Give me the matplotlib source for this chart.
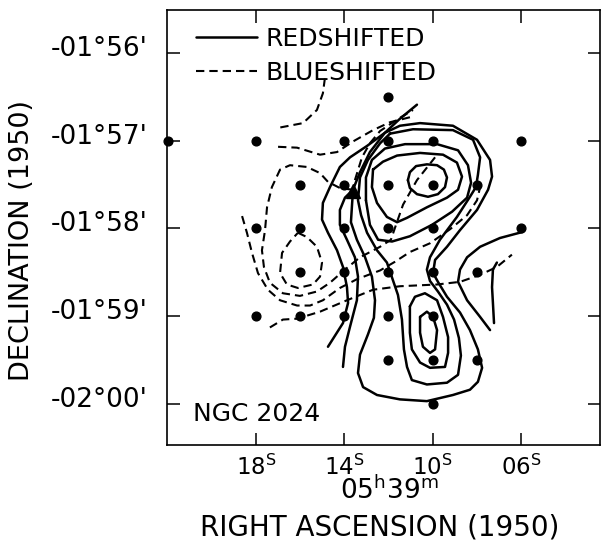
import matplotlib
matplotlib.use("Agg")
import matplotlib.pyplot as plt
import matplotlib.transforms as mtransforms

plt.rcParams['font.family'] = ['DejaVu Sans']
plt.rcParams['mathtext.fontset'] = 'dejavusans'

# positions: RA in seconds after 05h39m, Dec in arcmin after -01 deg (1950)
obs_ra = [22, 18, 14, 12, 10, 6,
          12,
          16, 14, 12, 10, 8,
          18, 16, 14, 12, 10, 6,
          16, 14, 12, 10, 8,
          18, 16, 14, 12, 10,
          12, 10, 8,
          10]
obs_dec = [-57, -57, -57, -57, -57, -57,
           -56.5,
           -57.5, -57.5, -57.5, -57.5, -57.5,
           -58, -58, -58, -58, -58, -58,
           -58.5, -58.5, -58.5, -58.5, -58.5,
           -59, -59, -59, -59, -59,
           -59.5, -59.5, -59.5,
           -60]
star_ra = [13.61]
star_dec = [-57.57]

# redshifted contours (solid)
red1_ra = [11.12, 11.03, 10.75, 10.26, 9.80, 9.49, 9.35, 9.44, 9.76, 10.21, 10.71, 11.03, 11.12]
red1_dec = [-57.45, -57.36, -57.29, -57.27, -57.28, -57.33, -57.42, -57.53, -57.61, -57.64, -57.61, -57.54, -57.45]

red2_ra = [12.70, 12.25, 11.61, 10.57, 9.53, 8.90, 8.67, 8.85, 9.35, 10.26, 11.16, 11.61, 12.07, 12.52, 12.75, 12.70]
red2_dec = [-57.33, -57.24, -57.17, -57.14, -57.16, -57.25, -57.41, -57.56, -57.65, -57.76, -57.88, -57.93, -57.87, -57.71, -57.53, -57.33]

red3_ra = [13.02, 13.02, 12.75, 12.16, 11.25, 9.80, 8.85, 8.40, 8.26, 8.44, 9.12, 10.03, 11.03, 11.84, 12.47, 12.84, 13.02]
red3_dec = [-57.68, -57.42, -57.22, -57.09, -57.04, -57.04, -57.11, -57.28, -57.48, -57.65, -57.81, -57.96, -58.09, -58.15, -58.13, -57.96, -57.68]

red4_ra = [11.93, 10.89, 9.08, 8.17, 7.85, 7.95, 8.04, 8.31, 8.90, 9.67, 10.12, 10.26, 10.12, 9.76, 9.35,
           9.03, 8.81, 8.72, 8.85, 9.35, 10.26, 10.94, 11.16, 11.30, 11.39, 11.57, 12.07, 12.52, 12.97,
           13.24, 13.38, 13.29, 12.93, 12.38, 11.93]
red4_dec = [-56.92, -56.87, -56.88, -56.99, -57.19, -57.39, -57.53, -57.64, -57.87, -58.13, -58.33, -58.47, -58.60,
            -58.72, -58.87, -59.04, -59.25, -59.45, -59.67, -59.76, -59.78, -59.73, -59.58, -59.38, -59.04,
            -58.76, -58.39, -58.25, -58.05, -57.85, -57.68, -57.42, -57.22, -57.03, -56.92]

red5_ra = [14.74, 14.06, 13.83, 13.88, 14.06, 14.33, 14.74, 15.01, 14.97, 14.65, 14.20, 13.74, 12.97, 12.16,
           11.48, 10.57, 9.08, 7.99, 7.40, 7.31, 7.49, 7.99, 8.76, 9.35, 9.89, 9.98, 9.76, 9.35, 8.76, 8.31,
           7.95, 7.76, 7.95, 8.31, 9.08, 10.26, 11.48, 12.52, 13.15, 13.38, 13.29, 12.93, 12.66, 12.61,
           12.75, 13.06, 13.43, 13.70, 13.65, 13.61]
red5_dec = [-59.35, -59.08, -58.85, -58.67, -58.44, -58.25, -58.05, -57.90, -57.71, -57.53, -57.30, -57.19,
            -57.06, -56.91, -56.83, -56.80, -56.83, -56.99, -57.22, -57.41, -57.56, -57.79, -58.02, -58.21,
            -58.36, -58.51, -58.61, -58.78, -58.96, -59.16, -59.38, -59.59, -59.75, -59.84, -59.90, -59.97,
            -59.95, -59.90, -59.81, -59.65, -59.44, -59.21, -59.02, -58.82, -58.55, -58.33, -58.13, -57.93,
            -57.73, -57.58]

red6_ra = [14.06, 13.97, 13.74, 13.43, 13.38, 13.52, 13.88, 14.20, 14.20, 13.97, 13.65]
red6_dec = [-59.58, -59.35, -59.12, -58.82, -58.55, -58.33, -58.13, -57.96, -57.79, -57.65, -57.57]

red7_ra = [13.61, 13.29, 12.84, 12.16, 11.48, 10.71]
red7_dec = [-57.56, -57.36, -57.13, -56.91, -56.75, -56.59]

red8_ra = [5.91, 6.95, 7.85, 8.44, 8.76, 8.85, 8.44, 7.85, 7.40]
red8_dec = [-58.04, -58.11, -58.21, -58.33, -58.47, -58.61, -58.82, -59.01, -59.16]

red9_ra = [7.09, 7.27, 7.31, 7.27, 7.22]
red9_dec = [-58.39, -58.47, -58.67, -58.85, -59.08]

red10_ra = [10.57, 10.26, 9.98, 9.80, 9.89, 10.12, 10.44, 10.57, 10.57]
red10_dec = [-59.01, -58.95, -59.01, -59.16, -59.38, -59.42, -59.35, -59.19, -59.01]

red11_ra = [11.03, 10.80, 10.35, 9.80, 9.53, 9.30, 9.30, 9.44, 10.12, 10.57, 10.94, 11.03, 11.03]
red11_dec = [-58.89, -58.78, -58.74, -58.82, -59.01, -59.24, -59.42, -59.58, -59.59, -59.53, -59.38, -59.19, -58.89]

# blueshifted contours (dashed)
blue1_ra = [14.88, 14.97, 15.24, 15.87, 16.91]
blue1_dec = [-56.29, -56.46, -56.65, -56.80, -56.85]

blue2_ra = [17.00, 16.14, 15.10, 14.33, 13.61, 12.70, 11.93, 10.98]
blue2_dec = [-57.07, -57.08, -57.16, -57.13, -57.01, -56.88, -56.79, -56.73]

blue3_ra = [13.52, 13.20, 12.84, 12.38, 11.61, 10.89]
blue3_dec = [-57.45, -57.19, -57.03, -56.89, -56.76, -56.65]

blue4_ra = [18.63, 18.41, 18.18, 17.91, 17.46, 16.91, 16.14, 15.55, 14.97, 14.20, 13.43, 12.38, 11.70,
            11.03, 10.12, 9.21, 8.44, 7.99, 7.85]
blue4_dec = [-57.86, -58.05, -58.28, -58.51, -58.70, -58.82, -58.88, -58.88, -58.82, -58.68, -58.58,
             -58.48, -58.38, -58.27, -58.17, -58.01, -57.85, -57.68, -57.53]

blue5_ra = [13.61, 14.20, 14.74, 15.10, 15.69, 16.46, 16.91, 17.28, 17.50, 17.59, 17.73, 17.64, 17.37,
            16.78, 16.01, 15.24, 14.65, 13.97, 13.29, 12.38, 11.89, 11.70, 11.34, 10.71, 9.89]
blue5_dec = [-57.56, -57.54, -57.47, -57.37, -57.30, -57.28, -57.33, -57.53, -57.76, -58.02, -58.25,
             -58.44, -58.62, -58.74, -58.77, -58.72, -58.62, -58.47, -58.33, -58.21, -58.13, -57.99,
             -57.73, -57.45, -57.19]

blue6_ra = [16.10, 15.69, 15.24, 15.01, 15.10, 15.42, 16.10, 16.60, 16.91, 16.82, 16.46, 16.10]
blue6_dec = [-58.05, -58.10, -58.21, -58.39, -58.55, -58.64, -58.68, -58.64, -58.51, -58.28, -58.15, -58.05]

blue7_ra = [17.37, 16.78, 16.14, 15.10, 13.88, 12.70, 11.48, 9.80, 8.76, 7.85, 7.09, 6.41]
blue7_dec = [-59.13, -59.04, -59.03, -58.95, -58.82, -58.70, -58.66, -58.64, -58.61, -58.53, -58.44, -58.30]

red_contours = [(red1_ra, red1_dec), (red2_ra, red2_dec), (red3_ra, red3_dec), (red4_ra, red4_dec),
                (red5_ra, red5_dec), (red6_ra, red6_dec), (red7_ra, red7_dec), (red8_ra, red8_dec),
                (red9_ra, red9_dec), (red10_ra, red10_dec), (red11_ra, red11_dec)]
blue_contours = [(blue1_ra, blue1_dec), (blue2_ra, blue2_dec), (blue3_ra, blue3_dec), (blue4_ra, blue4_dec),
                 (blue5_ra, blue5_dec), (blue6_ra, blue6_dec), (blue7_ra, blue7_dec)]

xtick_vals = [18, 14, 10, 6]
xtick_text = [r'18$^{\rm S}$', r'14$^{\rm S}$', r'10$^{\rm S}$', r'06$^{\rm S}$']
ytick_vals = [-56, -57, -58, -59, -60]
ytick_text = ["-01°56'", "-01°57'", "-01°58'", "-01°59'", "-02°00'"]

fig = plt.figure(figsize=(6.02, 5.42), dpi=100)
ax = fig.add_axes([0.2774, 0.1790, 0.7193, 0.8026])

red_lines = []
for ra, dec in red_contours:
    red_lines += ax.plot(ra, dec, color='black', lw=1.8, solid_joinstyle='round', solid_capstyle='round')
blue_lines = []
for ra, dec in blue_contours:
    blue_lines += ax.plot(ra, dec, color='black', lw=1.5, dashes=(4.0, 2.4), dash_joinstyle='round')

ax.plot(obs_ra, obs_dec, 'o', color='black', ms=6.3, clip_on=False)
ax.plot(star_ra, star_dec, '^', color='black', ms=10.5)

ax.set_xlim(22.03, 2.42)
ax.set_ylim(-60.47, -55.51)

ax.set_xticks(xtick_vals)
ax.set_xticklabels(xtick_text, fontsize=16.5)
ax.set_yticks(ytick_vals)
ax.set_yticklabels(ytick_text, fontsize=19)
ax.tick_params(direction='in', length=9, width=1.1, top=True, right=True)
ax.tick_params(axis='y', pad=14)
ax.tick_params(axis='x', pad=7)
shift = mtransforms.ScaledTranslation(0, 5 / 72, fig.dpi_scale_trans)
for lab in ax.get_yticklabels():
    lab.set_transform(lab.get_transform() + shift)
for sp in ax.spines.values():
    sp.set_linewidth(1.2)

ax.legend([red_lines[0], blue_lines[0]], ['REDSHIFTED', 'BLUESHIFTED'], loc='upper left',
          bbox_to_anchor=(0.066, 0.962), frameon=False, fontsize=18, handlelength=2.45,
          handletextpad=0.35, labelspacing=0.42, borderpad=0, borderaxespad=0)

ax.text(0.06, 0.071, 'NGC 2024', transform=ax.transAxes, fontsize=18, va='center', ha='left')
ax.text(0.513, -0.105, r'05$^{\rm h}$39$^{\rm m}$', transform=ax.transAxes, fontsize=19,
        va='center', ha='center')
ax.text(0.492, -0.189, 'RIGHT ASCENSION (1950)', transform=ax.transAxes, fontsize=20,
        va='center', ha='center')
ax.text(-0.335, 0.469, 'DECLINATION (1950)', transform=ax.transAxes, fontsize=19.5,
        va='center', ha='center', rotation=90)

fig.savefig('out.png', dpi=100)
